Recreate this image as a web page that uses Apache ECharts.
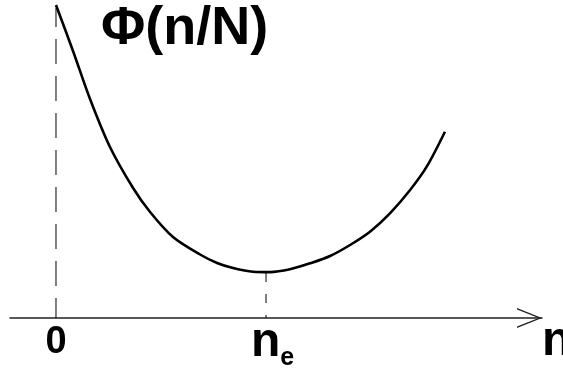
<!DOCTYPE html>
<html>
<head>
<meta charset="utf-8">
<script src="https://cdn.jsdelivr.net/npm/echarts@6/dist/echarts.min.js"></script>
<style>
html, body { margin: 0; padding: 0; background: #fff; }
#chart { width: 563px; height: 368px; }
</style>
</head>
<body>
<div id="chart"></div>
<script>
// curve: n in units of n_e, phi in arbitrary units
var nVals = [0, 0.081, 0.162, 0.257, 0.367, 0.448, 0.557, 0.686, 0.767, 0.843, 0.938, 1.019, 1.114, 1.210, 1.305, 1.400, 1.495, 1.590, 1.686, 1.765, 1.852];
var phiVals = [3.13, 2.67, 2.19, 1.71, 1.30, 1.06, 0.81, 0.635, 0.55, 0.50, 0.463, 0.459, 0.487, 0.547, 0.62, 0.73, 0.863, 1.047, 1.28, 1.513, 1.863];
var tickVals = [0, 1];
var tickNames = ['0', 'n_e'];
var dropZero = [3.10, 0];   // dashed line at n = 0, top to axis
var dropMin = [0.45, 0];    // dashed line at n = n_e

var curve = nVals.map(function(n, i) { return [n, phiVals[i]]; });

var chart = echarts.init(document.getElementById('chart'));
chart.setOption({
    animation: false,
    backgroundColor: '#fff',
    title: {
        text: 'Φ(n/N)',
        left: 96,
        top: -6,
        textStyle: { fontFamily: 'Liberation Sans', fontWeight: 'bold', fontSize: 54, color: '#000', lineHeight: 60 }
    },
    grid: { left: 10, right: 21, top: 0, bottom: 50, outerBoundsMode: 'none', containLabel: false },
    xAxis: {
        type: 'value',
        min: -0.219,
        max: 2.314,
        name: 'n',
        nameLocation: 'end',
        nameGap: 0,
        nameTextStyle: { fontFamily: 'Liberation Sans', fontWeight: 'bold', fontSize: 48, color: '#000', lineHeight: 40, verticalAlign: 'top', align: 'left', padding: [4, 0, 0, 0] },
        axisLine: {
            onZero: false,
            symbol: ['none', 'path://M0,25 L10,0 L20,25 L18.6,25 L10,3.5 L1.4,25 Z'],
            symbolSize: [20, 25],
            symbolOffset: [0, -12.5],
            lineStyle: { color: '#222', width: 1.5 }
        },
        axisTick: { show: false },
        splitLine: { show: false },
        axisLabel: {
            customValues: tickVals,
            margin: 5,
            formatter: function(v) {
                return tickNames[tickVals.indexOf(v)] === 'n_e' ? '{pad|}{n|n}{e|e}' : '{z|0}';
            },
            rich: {
                z: { fontFamily: 'Liberation Sans', fontWeight: 'bold', fontSize: 38, color: '#000', lineHeight: 40 },
                pad: { width: 13 },
                n: { fontFamily: 'Liberation Sans', fontWeight: 'bold', fontSize: 48, color: '#000', lineHeight: 40 },
                e: { fontFamily: 'Liberation Sans', fontWeight: 'bold', fontSize: 25, color: '#000', lineHeight: 40, padding: [30, 0, 0, 0] }
            }
        }
    },
    yAxis: {
        type: 'value',
        min: 0,
        max: 3.18,
        show: false
    },
    series: [{
        type: 'line',
        data: curve,
        smooth: 0.3,
        symbol: 'none',
        lineStyle: { color: '#000', width: 2.6 }
    }, {
        type: 'line',
        data: dropZero.map(function(p) { return [tickVals[0], p]; }),
        symbol: 'none',
        lineStyle: { color: '#000', width: 1, type: [25, 12], dashOffset: 6 }
    }, {
        type: 'line',
        data: dropMin.map(function(p) { return [tickVals[1], p]; }),
        symbol: 'none',
        lineStyle: { color: '#000', width: 1, type: [9, 12] }
    }]
});
</script>
</body>
</html>
